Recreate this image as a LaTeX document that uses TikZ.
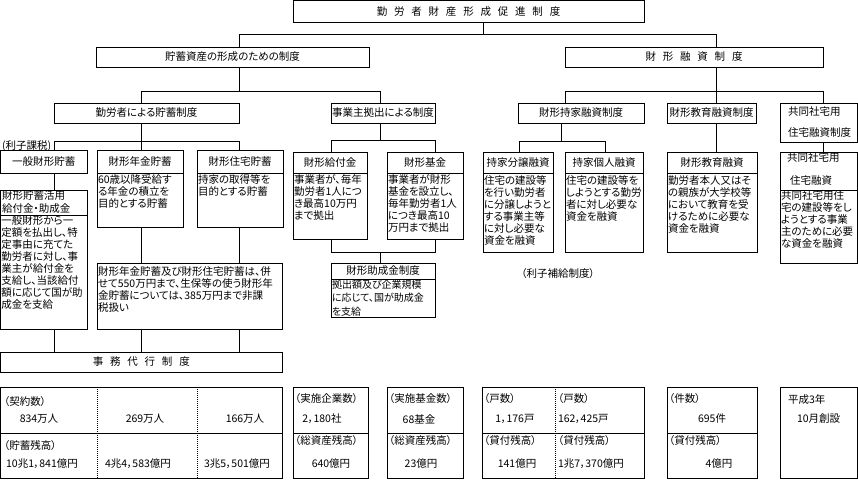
\documentclass[tikz,border=0pt]{standalone}
\usepackage{fontspec}
\setmainfont{Noto Sans CJK JP}[RawFeature=+palt]
\newcommand{\lsp}{\hspace{6.8pt}}
\newcommand{\mkbox}[6]{\node[bx, minimum width={(#4)-(#2)}, minimum height={(#5)-(#3)}] (#1) at ({((#2)+(#4))/2},{((#3)+(#5))/2}) {#6};}
\begin{document}
\begin{tikzpicture}[x=1pt,y=-1pt,
 bx/.style={draw, line width=0.9pt, inner sep=0pt, outer sep=0pt, font=\fontsize{10.5}{12}\selectfont, align=center},
 tx/.style={inner sep=0pt, outer sep=0pt, font=\fontsize{10.5}{12}\selectfont, align=left},
 ln/.style={line width=0.9pt},
 dotln/.style={line width=0.8pt, dash pattern=on 1pt off 1pt}]
\fill[white] (0,0) rectangle (858,479);
\useasboundingbox (0,0) rectangle (858,479);

% ---------- level 1-3 ----------
\mkbox{T}{293}{0.5}{644}{22}{勤\lsp 労\lsp 者\lsp 財\lsp 産\lsp 形\lsp 成\lsp 促\lsp 進\lsp 制\lsp 度}
\mkbox{A}{96}{47}{369}{67}{貯蓄資産の形成のための制度}
\mkbox{B}{565}{47}{823}{67}{財\lsp 形\lsp 融\lsp 資\lsp 制\lsp 度}
\mkbox{A1}{54}{103}{239}{123}{勤労者による貯蓄制度}
\mkbox{A2}{331}{103}{435}{123}{事業主拠出による制度}
\mkbox{B1}{518}{103}{644}{123}{財形持家融資制度}
\mkbox{B2}{667}{103}{756}{123}{財形教育融資制度}
\mkbox{B3}{780}{103}{857}{142}{}
\node[tx, anchor=west] (B3a) at (788,112) {共同社宅用};
\node[tx, anchor=west] (B3b) at (788,133) {住宅融資制度};

% ---------- workers' savings ----------
\node[tx, anchor=west] (n1) at (2,146) {(利子課税)};
\mkbox{C1}{0.5}{150}{87}{173}{一般財形貯蓄}
\mkbox{C1h}{0.5}{190}{87}{215}{}
\node[tx, anchor=west] (C1ha) at (2,196) {財形貯蓄活用};
\node[tx, anchor=west] (C1hb) at (2,209) {給付金・助成金};
\mkbox{C1b}{0.5}{215}{87}{329}{}
\node[tx, anchor=north west] (C1t) at ([shift={(1,0.5)}]C1b.north west) {一般財形から一\\定額を払出し、特\\定事由に充てた\\勤労者に対し、事\\業主が給付金を\\支給し、当該給付\\額に応じて国が助\\成金を支給};

\mkbox{C2}{97}{150}{183}{173}{財形年金貯蓄}
\mkbox{C2b}{97}{173}{183}{227}{}
\node[tx, anchor=north west] (C2t) at ([shift={(1,2)}]C2b.north west) {60歳以降受給す\\る年金の積立を\\目的とする貯蓄};
\mkbox{C3}{197}{150}{283}{173}{財形住宅貯蓄}
\mkbox{C3b}{197}{173}{283}{227}{}
\node[tx, anchor=north west] (C3t) at ([shift={(1,2)}]C3b.north west) {持家の取得等を\\目的とする貯蓄};
\mkbox{C4}{97}{263}{282}{329}{}
\node[tx, anchor=north west] (C4t) at ([shift={(1,3.5)}]C4.north west) {財形年金貯蓄及び財形住宅貯蓄は、併\\せて550万円まで、生保等の使う財形年\\金貯蓄については、385万円まで非課\\税扱い};
\mkbox{D}{0.5}{352}{282}{372}{事\lsp 務\lsp 代\lsp 行\lsp 制\lsp 度}

% ---------- employer contributions ----------
\mkbox{E1}{293}{152}{367}{173}{財形給付金}
\mkbox{E1b}{293}{173}{367}{239}{}
\node[tx, anchor=north west] (E1t) at ([shift={(1,2)}]E1b.north west) {事業者が、毎年\\勤労者1人につ\\き最高10万円\\まで拠出};
\mkbox{E2}{387}{152}{463}{173}{財形基金}
\mkbox{E2b}{387}{173}{463}{239}{}
\node[tx, anchor=north west] (E2t) at ([shift={(1,2)}]E2b.north west) {事業者が財形\\基金を設立し、\\毎年勤労者1人\\につき最高10\\万円まで拠出};
\mkbox{E3}{331}{263}{435}{279}{財形助成金制度}
\mkbox{E3b}{331}{279}{435}{317}{}
\node[tx, anchor=north west, font=\fontsize{10}{13.3}\selectfont] (E3t) at ([shift={(1,1)}]E3b.north west) {拠出額及び企業規模\\に応じて、国が助成金\\を支給};

% ---------- loans ----------
\mkbox{F1}{483}{152}{553}{173}{持家分譲融資}
\mkbox{F1b}{483}{173}{553}{252}{}
\node[tx, anchor=north west] (F1t) at ([shift={(1,2.5)}]F1b.north west) {住宅の建設等\\を行い勤労者\\に分譲しようと\\する事業主等\\に対し必要な\\資金を融資};
\mkbox{F2}{565}{152}{643}{173}{持家個人融資}
\mkbox{F2b}{565}{173}{643}{252}{}
\node[tx, anchor=north west] (F2t) at ([shift={(1,2.5)}]F2b.north west) {住宅の建設等を\\しようとする勤労\\者に対し必要な\\資金を融資};
\mkbox{F3}{667}{152}{757}{173}{財形教育融資}
\mkbox{F3b}{667}{173}{757}{252}{}
\node[tx, anchor=north west] (F3t) at ([shift={(1,2.5)}]F3b.north west) {勤労者本人又はそ\\の親族が大学校等\\において教育を受\\けるために必要な\\資金を融資};
\mkbox{F4}{780}{152}{857}{190}{}
\node[tx, anchor=west] (F4a) at (787,158) {共同社宅用};
\node[tx, anchor=west] (F4b2) at (790,181) {住宅融資};
\mkbox{F4b}{780}{190}{857}{263}{}
\node[tx, anchor=north west] (F4t) at ([shift={(1,1)}]F4b.north west) {共同社宅用住\\宅の建設等をし\\ようとする事業\\主のために必要\\な資金を融資};
\node[tx] (n2) at (558,274) {（利子補給制度）};

% ---------- connectors ----------
\coordinate (j0) at (483,34);
\coordinate (jA) at (239,34);
\coordinate (jB) at (716,34);
\draw[ln] (T.south -| j0) -- (j0);
\draw[ln] (jA) -- (jB);
\draw[ln] (jA) -- (A.north -| jA);
\draw[ln] (jB) -- (B.north -| jB);

\coordinate (k0) at (239,91);
\coordinate (kA1) at (141,91);
\coordinate (kA2) at (380,91);
\draw[ln] (A.south -| k0) -- (k0);
\draw[ln] (kA1) -- (kA2);
\draw[ln] (kA1) -- (A1.north -| kA1);
\draw[ln] (kA2) -- (A2.north -| kA2);

\coordinate (m0) at (716,91);
\coordinate (mB1) at (565,91);
\coordinate (mB3) at (823,91);
\draw[ln] (B.south -| m0) -- (B2.north -| m0);
\draw[ln] (mB1) -- (mB3);
\draw[ln] (mB1) -- (B1.north -| mB1);
\draw[ln] (mB3) -- (B3.north -| mB3);

\coordinate (n0) at (141,141);
\coordinate (nL) at (54,141);
\coordinate (nR) at (239,141);
\draw[ln] (A1.south -| n0) -- (C2.north -| n0);
\draw[ln] (nL) -- (nR);
\draw[ln] (nL) -- (C1.north -| nL);
\draw[ln] (nR) -- (C3.north -| nR);
\draw[ln] (C1.south -| nL) -- (C1h.north -| nL);
\draw[ln] (C1b.south -| nL) -- (D.north -| nL);
\draw[ln] (C2b.south -| n0) -- (C4.north -| n0);
\draw[ln] (C3b.south -| nR) -- (C4.north -| nR);
\draw[ln] (C4.south -| n0) -- (D.north -| n0);
\draw[ln] (C4.south -| nR) -- (D.north -| nR);

\coordinate (p0) at (380,140);
\coordinate (pL) at (331,140);
\coordinate (pR) at (435,140);
\draw[ln] (A2.south -| p0) -- (p0);
\draw[ln] (pL) -- (pR);
\draw[ln] (pL) -- (E1.north -| pL);
\draw[ln] (pR) -- (E2.north -| pR);
\coordinate (q0) at (380,252);
\coordinate (qL) at (331,252);
\coordinate (qR) at (435,252);
\draw[ln] (E1b.south -| qL) -- (qL) -- (qR) -- (E2b.south -| qR);
\draw[ln] (q0) -- (E3.north -| q0);

\coordinate (r0) at (561,141);
\coordinate (rL) at (519,141);
\coordinate (rR) at (605,141);
\draw[ln] (B1.south -| r0) -- (r0);
\draw[ln] (rL) -- (rR);
\draw[ln] (rL) -- (F1.north -| rL);
\draw[ln] (rR) -- (F2.north -| rR);
\draw[ln] (B2.south -| m0) -- (F3.north -| m0);
\draw[ln] (B3.south -| mB3) -- (F4.north -| mB3);

% ---------- statistics ----------
\mkbox{G}{0.5}{387}{282}{478}{}
\draw[ln] (G.west |- 0,433) -- (G.east |- 0,433);
\draw[dotln] (G.north -| 97,0) -- (G.south -| 97,0);
\draw[dotln] (G.north -| 197,0) -- (G.south -| 197,0);
\node[tx, anchor=west] (g1) at (4,402) {（契約数）};
\node[tx] (g2) at (39,419) {834万人};
\node[tx] (g3) at (145,419) {269万人};
\node[tx] (g4) at (245,419) {166万人};
\node[tx, anchor=west] (g5) at (4,446) {（貯蓄残高）};
\node[tx] (g6) at (42,464) {10兆1，841億円};
\node[tx] (g7) at (138,464) {4兆4，583億円};
\node[tx] (g8) at (237,464) {3兆5，501億円};

\mkbox{H1}{293}{387}{368}{478}{}
\draw[ln] (H1.west |- 0,433) -- (H1.east |- 0,433);
\node[tx, anchor=west] (h1) at (295,399) {（実施企業数）};
\node[tx] (h2) at (322,419) {2，180社};
\node[tx, anchor=west] (h3) at (295,441) {（総資産残高）};
\node[tx] (h4) at (331,464) {640億円};

\mkbox{H2}{387}{387}{463}{478}{}
\draw[ln] (H2.west |- 0,433) -- (H2.east |- 0,433);
\node[tx, anchor=west] (h5) at (389,399) {（実施基金数）};
\node[tx] (h6) at (419,419) {68基金};
\node[tx, anchor=west] (h7) at (389,441) {（総資産残高）};
\node[tx] (h8) at (421,464) {23億円};

\mkbox{I}{482}{387}{644}{478}{}
\draw[ln] (I.west |- 0,433) -- (I.east |- 0,433);
\draw[dotln] (I.north -| 555,0) -- (I.south -| 555,0);
\node[tx, anchor=west] (i1) at (484,399) {（戸数）};
\node[tx] (i2) at (515,419) {1，176戸};
\node[tx, anchor=west] (i3) at (484,441) {（貸付残高）};
\node[tx] (i4) at (517,464) {141億円};
\node[tx, anchor=west] (i5) at (558,399) {（戸数）};
\node[tx, anchor=west] (i6) at (558,419) {162，425戸};
\node[tx, anchor=west] (i7) at (558,441) {（貸付残高）};
\node[tx, anchor=west] (i8) at (558,464) {1兆7，370億円};

\mkbox{J}{667}{387}{757}{478}{}
\draw[ln] (J.west |- 0,433) -- (J.east |- 0,433);
\node[tx, anchor=west] (k1) at (669,399) {（件数）};
\node[tx] (k2) at (712,419) {695件};
\node[tx, anchor=west] (k3) at (669,441) {（貸付残高）};
\node[tx] (k4) at (719,464) {4億円};

\mkbox{K}{780}{387}{857}{478}{}
\node[tx, anchor=west] (l1) at (788,400) {平成3年};
\node[tx, anchor=west] (l2) at (797,419) {10月創設};
\end{tikzpicture}
\end{document}
